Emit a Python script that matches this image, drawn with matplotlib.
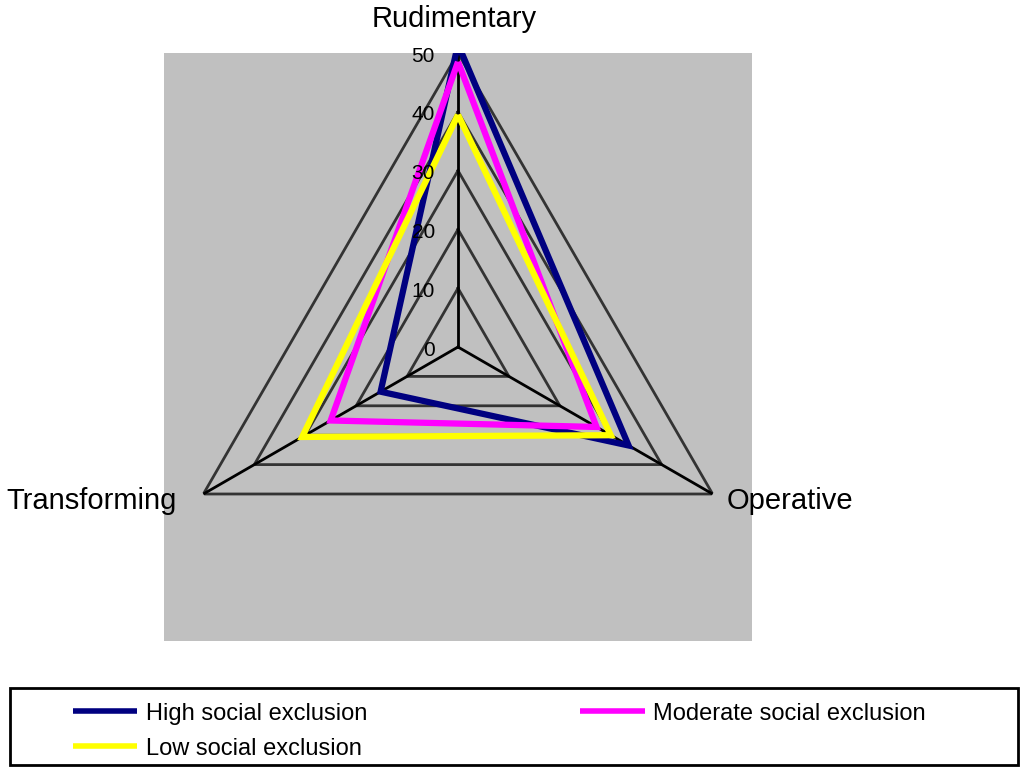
import numpy as np
import matplotlib
matplotlib.use("Agg")
import matplotlib.pyplot as plt
from matplotlib.patches import Rectangle

plt.rcParams['font.family'] = ['Liberation Sans', 'DejaVu Sans']

categories = ["Rudimentary", "Operative", "Transforming"]
series_names = ["High social exclusion", "Moderate social exclusion", "Low social exclusion"]
high = [51.5, 33.5, 15.2]
moderate = [48.5, 27.2, 25.0]
low = [39.5, 30.0, 30.6]
series_values = [high, moderate, low]
series_colors = ["#000080", "#FF00FF", "#FFFF00"]
radial_ticks = [0, 10, 20, 30, 40, 50]

W, H = 1021, 767
fig = plt.figure(figsize=(W / 100, H / 100), dpi=100)

# plot area (square) in pixels
x0, y0, side = 164, 53, 588
rect = [x0 / W, (H - y0 - side) / H, side / W, side / H]
fig.patches.append(Rectangle((rect[0], rect[1]), rect[2], rect[3],
                             transform=fig.transFigure, facecolor="#C0C0C0",
                             edgecolor="none", zorder=-5))

ax = fig.add_axes(rect, projection="polar")
ax.set_zorder(1)
ax.set_theta_offset(np.pi / 2)
ax.set_theta_direction(-1)
ax.set_ylim(0, 50)
ax.set_facecolor("none")
ax.patch.set_visible(False)
ax.grid(False)
ax.spines["polar"].set_visible(False)
ax.set_xticks([])
ax.set_yticks([])

n = len(categories)
angles = np.arange(n) * 2 * np.pi / n
closed = np.append(angles, angles[0])

# polygon gridlines
for r in radial_ticks[1:]:
    ax.plot(closed, [r] * (n + 1), color="#333333", lw=2, zorder=1,
            solid_joinstyle="miter")
# spokes
for a in angles:
    ax.plot([a, a], [0, radial_ticks[-1]], color="black", lw=2, zorder=2)

# data series
lines = []
for vals, col, name in zip(series_values, series_colors, series_names):
    ln, = ax.plot(closed, list(vals) + [vals[0]], color=col, lw=4.5, zorder=3,
                  label=name, solid_joinstyle="miter", solid_capstyle="butt")
    lines.append(ln)

# radial tick labels
for r in radial_ticks:
    ax.annotate(str(r), xy=(0, r), xytext=(-23, -3), textcoords="offset pixels",
                ha="right", va="center", fontsize=15, zorder=5)

# category labels
offsets = [((-4, 34), "center", "center"),
           ((14, -7), "left", "center"),
           ((-27, -7), "right", "center")]
for a, lab, (off, ha, va) in zip(angles, categories, offsets):
    ax.annotate(lab, xy=(a, 50), xytext=off, textcoords="offset pixels",
                ha=ha, va=va, fontsize=21, annotation_clip=False)

# legend (row-wise order: High, Moderate / Low)
order = [0, 2, 1]
leg = fig.legend([lines[i] for i in order], [series_names[i] for i in order],
                 ncol=2, frameon=False,
                 loc="upper left", bbox_to_anchor=(56 / W, 1 - 686 / H),
                 fontsize=17, handlelength=2.75, handletextpad=0.35,
                 columnspacing=9.0, labelspacing=0.55, borderpad=0.2)
for l in leg.get_lines():
    l.set_linewidth(4)
fig.patches.append(Rectangle((10 / W, (H - 765) / H), 1008 / W, 77 / H,
                             transform=fig.transFigure, facecolor="none",
                             edgecolor="black", lw=2, zorder=0))

fig.savefig("out.png", dpi=100)
